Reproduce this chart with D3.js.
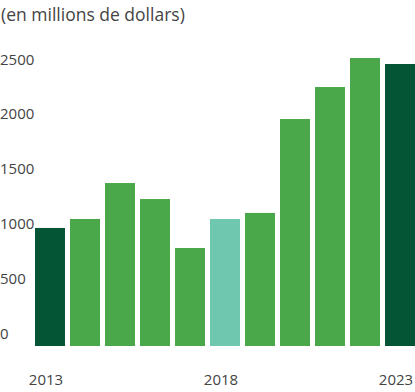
<!DOCTYPE html>
<html>
<head>
<meta charset="utf-8">
<script src="https://cdn.jsdelivr.net/npm/d3@7"></script>
<style>
  body { margin: 0; background: #fff; }
  svg text { font-family: "Open Sans", sans-serif; fill: #444; }
</style>
</head>
<body>
<div id="chart"></div>
<script>
// annees et montants (millions $)
const years = ["2013", "2014", "2015", "2016", "2017", "2018", "2019", "2020", "2021", "2022", "2023"]
const amounts = [1077, 1159, 1487, 1341, 894, 1159, 1214, 2071, 2363, 2628, 2573]
const yTicks = [0, 500, 1000, 1500, 2000, 2500]
const xLabels = ["2013", "2018", "2023"]

const width = 415
const height = 392
const margin = {top: 72, right: 0, bottom: 46, left: 35}

const svg = d3.select("#chart").append("svg")
    .attr("width", width)
    .attr("height", height)

svg.append("text")
    .attr("x", 1)
    .attr("y", 21)
    .style("font-size", "17.5px")
    .text("(en millions de dollars)")

const x = d3.scaleBand()
    .domain(years)
    .range([margin.left, width - margin.right])
    .paddingInner(5 / 35)
    .paddingOuter(0)

const y = d3.scaleLinear()
    .domain([0, 2500])
    .range([height - margin.bottom, margin.top])

function barColor(d, i) {
    if (i === 0 || i === years.length - 1) return "#045535"
    if (years[i] === "2018") return "#6fc7b0"
    return "#4ba84a"
}

svg.append("g")
    .selectAll("rect")
    .data(amounts)
    .enter()
    .append("rect")
    .attr("x", (d, i) => x(years[i]))
    .attr("y", d => y(d))
    .attr("width", x.bandwidth())
    .attr("height", d => y(0) - y(d))
    .style("fill", barColor)

// labels de l'axe y, places au-dessus de la ligne
const yAxis = d3.axisLeft(y).tickValues(yTicks).tickFormat(d3.format("d")).tickSize(0).tickPadding(0)
const gy = svg.append("g")
    .attr("transform", "translate(0,-8)")
    .call(yAxis)
gy.select(".domain").remove()
gy.selectAll("text")
    .attr("text-anchor", "start")
    .attr("x", 0)
    .attr("dy", 0)
    .style("font-size", "15px")
    .style("font-family", "'Open Sans', sans-serif")
    .style("fill", "#444")

const xAxis = d3.axisBottom(x).tickValues(xLabels).tickSize(0).tickPadding(0)
const gx = svg.append("g")
    .attr("transform", "translate(-4,385)")
    .call(xAxis)
gx.select(".domain").remove()
gx.selectAll("text")
    .attr("y", 0)
    .attr("dy", 0)
    .style("font-size", "15px")
    .style("font-family", "'Open Sans', sans-serif")
    .style("fill", "#444")
</script>
</body>
</html>
